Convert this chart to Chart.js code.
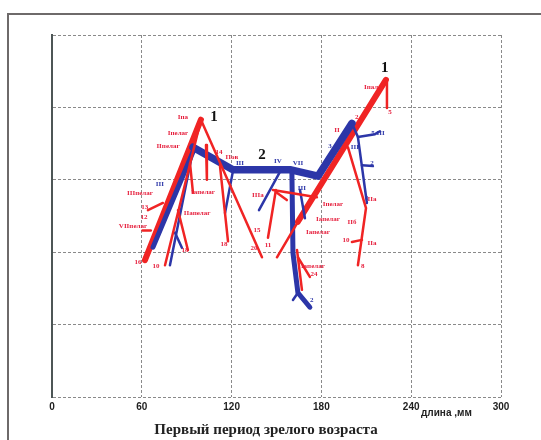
<!DOCTYPE html>
<html><head><meta charset="utf-8">
<script src="https://cdn.jsdelivr.net/npm/chart.js@4"></script>
<style>html,body{margin:0;padding:0;background:#fff;}canvas{display:block}</style>
</head><body>
<canvas id="c" width="541" height="440"></canvas>
<script>
// x: length, mm; y: unlabeled scale 0..5
const xTicks = [0, 60, 120, 180, 240, 300];
const yTicks = [0, 1, 2, 3, 4, 5];

// polylines of [x, y]
const redThick = [
  [[99.5, 3.83], [62.1, 1.89]],
  [[164.3, 2.42], [223.1, 4.38]]
];
const redThin = [
  [[99.5, 3.83], [75.5, 1.82]],
  [[84.2, 2.58], [90.8, 2.03]],
  [[92.2, 3.23], [94.2, 2.82]],
  [[102.9, 3.48], [103.5, 3.0]],
  [[99.5, 3.83], [140.3, 1.93]],
  [[112.2, 3.20], [117.6, 2.15]],
  [[64.1, 2.58], [74.1, 2.68]],
  [[60.5, 2.30], [66.0, 2.30]],
  [[149.6, 2.86], [144.3, 2.20]],
  [[147.6, 2.86], [177.0, 2.76]],
  [[149.6, 2.83], [156.9, 2.72]],
  [[150.3, 1.93], [164.3, 2.42]],
  [[223.8, 4.35], [223.8, 3.99]],
  [[163.7, 2.03], [167.0, 1.48]],
  [[164.3, 1.93], [172.3, 1.66]],
  [[197.7, 3.45], [209.8, 2.61], [204.4, 1.82]],
  [[200.4, 2.14], [207.1, 2.17]]
];
const blueThick = [
  [[94.2, 3.45], [120.9, 3.14], [159.0, 3.14], [177.7, 3.05], [200.4, 3.78]]
];
const blueMed = [
  [[95.5, 3.45], [67.5, 2.07]],
  [[160.3, 3.09], [161.0, 1.99], [164.3, 1.44], [172.3, 1.24]]
];
const blueThin = [
  [[93.5, 3.34], [78.8, 1.82]],
  [[82.2, 2.27], [86.8, 2.06]],
  [[120.9, 3.12], [115.6, 2.54]],
  [[152.3, 3.11], [138.3, 2.58]],
  [[200.4, 3.78], [204.4, 3.59], [210.4, 2.68]],
  [[204.4, 3.59], [215.8, 3.63], [219.1, 3.67]],
  [[207.1, 3.20], [214.4, 3.19]],
  [[164.3, 1.44], [161.0, 1.34]],
  [[165.7, 2.86], [169.0, 2.47]]
];

// labels: [text, x, y]
const redLabels = [
  ["Iпал.", 213.8, 4.28], ["Iпа", 87.5, 3.87], ["Iпелаг", 84.2, 3.65],
  ["IIпелаг", 77.5, 3.47], ["IIIпелаг", 58.8, 2.82], ["VIIпелаг", 54.1, 2.36],
  ["Iaпелаг", 100.9, 2.83], ["IIaпелаг", 96.9, 2.54], ["Пов", 120.2, 3.31],
  ["IIIa", 137.6, 2.79], ["Iпелаг", 187.7, 2.67], ["Iaпелаг", 184.4, 2.46],
  ["Iaпелаг", 177.7, 2.27], ["Iaпелаг", 174.3, 1.80], ["IIa", 213.8, 2.73],
  ["IIб", 200.4, 2.42], ["IIa", 213.8, 2.13], ["II", 190.4, 3.69],
  ["16", 57.4, 1.86], ["10", 69.5, 1.81], ["18", 88.8, 2.03], ["18", 114.9, 2.11],
  ["20", 134.9, 2.06], ["15", 136.9, 2.31], ["11", 144.3, 2.09], ["24", 175.0, 1.69],
  ["8", 207.7, 1.81], ["10", 196.4, 2.17], ["5", 225.8, 3.94], ["2", 203.7, 3.87],
  ["14", 111.6, 3.38], ["12", 61.5, 2.48], ["13", 62.0, 2.62]
];
const blueLabels = [
  ["III", 125.6, 3.23], ["IV", 151.0, 3.26], ["VII", 164.3, 3.23], ["III", 167.0, 2.89],
  ["III", 202.4, 3.45], ["III", 72.1, 2.94], ["5 III", 217.8, 3.65],
  ["1", 165.7, 1.41], ["2", 173.6, 1.34], ["3", 185.7, 3.47], ["2", 213.8, 3.23], ["1", 210.4, 2.75]
];
const bigLabels = [["1", 108.2, 3.87], ["1", 222.4, 4.54], ["2", 140.3, 3.34]];

const xAxisUnit = "длина ,мм";
const chartTitle = "Первый период зрелого возраста";

const RED = "rgb(240,36,36)";
const BLUE = "rgb(44,54,168)";

function mk(lines, color, width) {
  return lines.map(l => ({
    data: l.map(p => ({ x: p[0], y: p[1] })),
    showLine: true, borderColor: color, borderWidth: width,
    pointRadius: 0, fill: false, tension: 0,
    borderCapStyle: "round", borderJoinStyle: "round"
  }));
}
const datasets = [].concat(
  mk(redThin, RED, 2.5),
  mk(blueThin, BLUE, 2.5),
  mk(blueMed, BLUE, 5),
  mk(blueThick, BLUE, 7.5),
  mk(redThick, RED, 6)
);

const decor = {
  id: "decor",
  beforeDraw(chart) {
    const ctx = chart.ctx;
    ctx.save();
    ctx.fillStyle = "#fff";
    ctx.fillRect(0, 0, chart.width, chart.height);
    ctx.strokeStyle = "#6e6a6a";
    ctx.lineWidth = 2;
    ctx.strokeRect(8, 14, 600, 600);
    ctx.restore();
  },
  afterDatasetsDraw(chart) {
    const ctx = chart.ctx, xs = chart.scales.x, ys = chart.scales.y;
    ctx.save();
    ctx.textAlign = "center"; ctx.textBaseline = "middle";
    ctx.font = "bold 7px 'Liberation Serif'";
    ctx.fillStyle = "rgb(230,30,60)";
    redLabels.forEach(l => ctx.fillText(l[0], xs.getPixelForValue(l[1]), ys.getPixelForValue(l[2])));
    ctx.fillStyle = BLUE;
    blueLabels.forEach(l => ctx.fillText(l[0], xs.getPixelForValue(l[1]), ys.getPixelForValue(l[2])));
    ctx.fillStyle = "#111";
    ctx.font = "bold 15px 'Liberation Serif'";
    bigLabels.forEach(l => ctx.fillText(l[0], xs.getPixelForValue(l[1]), ys.getPixelForValue(l[2])));
    ctx.restore();
  },
  afterDraw(chart) {
    const ctx = chart.ctx;
    ctx.save();
    ctx.fillStyle = "#222";
    ctx.textBaseline = "middle";
    ctx.textAlign = "left";
    ctx.font = "bold 10px 'Liberation Sans'";
    ctx.fillText(xAxisUnit, 421, 413);
    ctx.textAlign = "center";
    ctx.font = "bold 15px 'Liberation Serif'";
    ctx.fillText(chartTitle, 266, 430);
    ctx.restore();
  }
};

new Chart(document.getElementById("c"), {
  type: "scatter",
  data: { datasets },
  options: {
    responsive: false, animation: false,
    layout: { padding: { left: 52, right: 40, top: 35, bottom: 0 } },
    plugins: { legend: { display: false }, tooltip: { enabled: false } },
    scales: {
      x: {
        type: "linear", min: xTicks[0], max: xTicks[xTicks.length - 1],
        afterBuildTicks: s => { s.ticks = xTicks.map(v => ({ value: v })); },
        afterFit: s => { s.height = 43; },
        ticks: { color: "#222", padding: 4, font: { family: "Liberation Sans", size: 10, weight: "bold" } },
        grid: { color: "#8a8a8a", lineWidth: 1, drawTicks: false },
        border: { display: false, dash: [3, 2] }
      },
      y: {
        type: "linear", min: yTicks[0], max: yTicks[yTicks.length - 1],
        afterBuildTicks: s => { s.ticks = yTicks.map(v => ({ value: v })); },
        afterFit: s => { s.width = 0; },
        ticks: { display: false },
        grid: { color: "#8a8a8a", lineWidth: 1, drawTicks: false },
        border: { display: true, color: "#4d5656", width: 2, dash: [3, 2] }
      }
    }
  },
  plugins: [decor]
});
</script>
</body></html>
